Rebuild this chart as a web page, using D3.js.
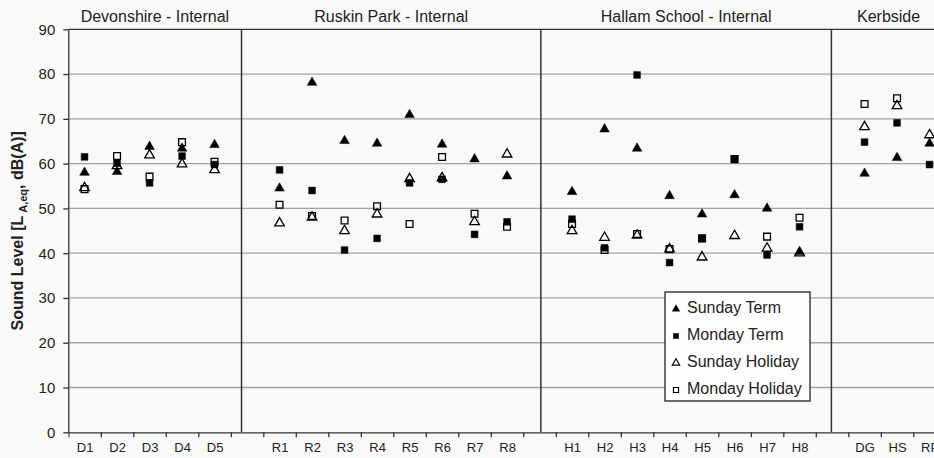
<!DOCTYPE html>
<html lang="en">
<head>
<meta charset="UTF-8">
<title>Sound Level by site</title>
<script src="https://d3js.org/d3.v7.min.js"></script>
<style>
    body { margin: 0; background: #f9f9f9; }
    svg { display: block; font-family: "Liberation Sans", Arial, sans-serif; }
    .grid line { stroke: #a3a3a3; stroke-width: 1.3; }
    .axis path, .axis line { stroke: #333; stroke-width: 1.3; }
    .axis text { fill: #222; }
</style>
</head>
<body>
<svg width="934" height="458"></svg>
<script>
    // categories (blank slots separate the sites)
    const categories = ["D1", "D2", "D3", "D4", "D5", "",
        "R1", "R2", "R3", "R4", "R5", "R6", "R7", "R8", "",
        "H1", "H2", "H3", "H4", "H5", "H6", "H7", "H8", "",
        "DG", "HS", "RP"];
    const sections = ["Devonshire - Internal", "Ruskin Park - Internal", "Hallam School - Internal", "Kerbside"];
    // divider positions in category units
    const dividers = [5.33, 14.54, 23.48];
    const yTicks = [0, 10, 20, 30, 40, 50, 60, 70, 80, 90];

    const sundayTerm    = [58.0, 58.2, 63.8, 63.4, 64.2, null, 54.5, 78.1, 65.1, 64.5, 70.9, 64.3, 61.0, 57.2, null, 53.7, 67.7, 63.4, 52.8, 48.7, 53.0, 50.0, 40.3, null, 57.8, 61.3, 64.5];
    const mondayTerm    = [61.5, 60.1, 55.7, 61.7, 59.8, null, 58.6, 54.0, 40.7, 43.3, 55.7, 56.5, 44.2, 47.0, null, 47.6, 41.2, 79.8, 37.9, 43.3, 61.0, 39.6, 45.9, null, 64.8, 69.1, 59.8];
    const sundayHoliday = [54.6, 59.5, 61.9, 59.9, 58.6, null, 46.7, 48.0, 45.0, 48.7, 56.6, 56.8, 47.0, 62.1, null, 45.0, 43.5, 44.0, 40.9, 39.1, 43.9, 41.1, 40.0, null, 68.2, 72.9, 66.4];
    const mondayHoliday = [54.3, 61.7, 57.1, 64.8, 60.4, null, 50.8, 48.3, 47.3, 50.5, 46.5, 61.5, 48.8, 45.9, null, 46.5, 40.7, 44.3, 40.9, 43.3, 61.0, 43.7, 47.9, null, 73.3, 74.6, null];

    const series = [
        {name: "Sunday Term", values: sundayTerm, shape: d3.symbolTriangle, filled: true},
        {name: "Monday Term", values: mondayTerm, shape: d3.symbolSquare, filled: true},
        {name: "Sunday Holiday", values: sundayHoliday, shape: d3.symbolTriangle, filled: false},
        {name: "Monday Holiday", values: mondayHoliday, shape: d3.symbolSquare, filled: false}
    ];

    const svg = d3.select("svg");
    const W = 934, H = 458;
    const plotLeft = 68.3, plotTop = 29.3, plotBottom = 432.3, step = 32.5;

    const x = d3.scaleLinear().domain([0, categories.length]).range([plotLeft, plotLeft + categories.length * step]);
    const y = d3.scaleLinear().domain([0, 90]).range([plotBottom, plotTop]);

    svg.append("rect").attr("width", W).attr("height", H).attr("fill", "#f9f9f9");

    svg.append("defs").append("clipPath").attr("id", "plot")
      .append("rect").attr("x", plotLeft).attr("y", 0).attr("width", W - plotLeft).attr("height", H);

    const plot = svg.append("g").attr("clip-path", "url(#plot)");

    // gridlines
    plot.append("g").attr("class", "grid")
      .selectAll("line")
      .data(yTicks.filter(d => d > 0 && d < 90))
      .enter().append("line")
        .attr("x1", plotLeft).attr("x2", W)
        .attr("y1", d => y(d)).attr("y2", d => y(d));

    // top border
    plot.append("line")
        .attr("x1", plotLeft).attr("x2", W)
        .attr("y1", y(90)).attr("y2", y(90))
        .attr("stroke", "#333").attr("stroke-width", 1.3);

    // site dividers
    plot.selectAll(".divider")
      .data(dividers)
      .enter().append("line")
        .attr("class", "divider")
        .attr("x1", d => x(d)).attr("x2", d => x(d))
        .attr("y1", y(90)).attr("y2", y(0))
        .attr("stroke", "#333").attr("stroke-width", 1.5);

    // section titles centred between dividers
    const bounds = [0].concat(dividers, [categories.length]);
    svg.selectAll(".section")
      .data(sections)
      .enter().append("text")
        .attr("class", "section")
        .attr("x", (d, i) => x((bounds[i] + bounds[i + 1]) / 2))
        .attr("y", 21.5)
        .attr("text-anchor", "middle")
        .style("font-size", "16px")
        .attr("fill", "#222")
        .text(d => d);

    // x axis: tick marks at slot edges
    plot.append("g")
        .attr("class", "axis")
        .attr("transform", "translate(0," + plotBottom + ")")
        .call(d3.axisBottom(x).tickValues(d3.range(categories.length + 1)).tickFormat("").tickSize(5).tickSizeOuter(0));

    // x axis labels at slot centres
    const xl = plot.append("g")
        .attr("transform", "translate(0," + plotBottom + ")")
        .call(d3.axisBottom(x).tickValues(d3.range(categories.length).map(i => i + 0.5))
            .tickFormat(d => categories[Math.floor(d)]).tickSize(0).tickPadding(10));
    xl.select(".domain").remove();
    xl.selectAll("text").style("font-size", "13px").attr("fill", "#222");

    // y axis
    const ya = svg.append("g")
        .attr("class", "axis")
        .attr("transform", "translate(" + plotLeft + ",0)")
        .call(d3.axisLeft(y).tickValues(yTicks).tickSize(5).tickPadding(8).tickSizeOuter(0));
    ya.selectAll("text").style("font-size", "15px");

    // y label
    const yl = svg.append("text")
        .attr("transform", "translate(23," + ((plotTop + plotBottom) / 2) + ") rotate(-90)")
        .attr("text-anchor", "middle")
        .style("font-size", "16px")
        .style("font-weight", "bold")
        .attr("fill", "#222");
    yl.append("tspan").text("Sound Level [L");
    yl.append("tspan").attr("dx", 3).attr("dy", 4).style("font-size", "11px").text("A,eq");
    yl.append("tspan").attr("dy", -4).text(", dB(A)]");

    // points
    series.forEach(s => {
        const sym = d3.symbol().type(s.shape).size(s.shape === d3.symbolTriangle ? 40 : 46);
        plot.append("g")
          .selectAll("path")
          .data(s.values.map((v, i) => ({i: i, v: v})).filter(d => d.v !== null))
          .enter().append("path")
            .attr("d", sym)
            .attr("transform", d => "translate(" + x(d.i + 0.5) + "," + y(d.v) + ")")
            .attr("fill", s.filled ? "#000" : "none")
            .attr("stroke", "#000")
            .attr("stroke-width", s.filled ? 0.5 : 1.3);
    });

    // legend
    const lg = svg.append("g").attr("transform", "translate(665,292)");
    lg.append("rect")
        .attr("width", 145).attr("height", 109)
        .attr("fill", "#fdfdfd").attr("stroke", "#222").attr("stroke-width", 1.3);
    const item = lg.selectAll(".item")
      .data(series)
      .enter().append("g")
        .attr("class", "item")
        .attr("transform", (d, i) => "translate(0," + (15 + i * 27) + ")");
    item.append("path")
        .attr("d", d => d3.symbol().type(d.shape).size(d.shape === d3.symbolTriangle ? 24 : 26)())
        .attr("transform", "translate(11,2)")
        .attr("fill", d => d.filled ? "#000" : "none")
        .attr("stroke", "#000")
        .attr("stroke-width", d => d.filled ? 0.5 : 1.1);
    item.append("text")
        .attr("x", 22).attr("y", 0).attr("dy", "0.35em")
        .style("font-size", "16px")
        .attr("fill", "#222")
        .text(d => d.name);
</script>
</body>
</html>
